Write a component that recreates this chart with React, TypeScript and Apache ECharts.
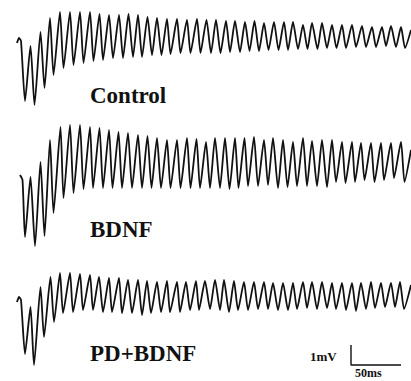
import React, { useEffect, useRef } from "react";
import * as echarts from "echarts";

// Field potential traces: [time (ms), voltage (mV relative to start level)]
const controlTrace: [number, number][] = [
  [0, 0], [2, 0.25], [4, 0.1], [8, -2.9], [13.5, -0.15], [17.5, -3.1], [23.5, 0.55], [27.5, -2.25],
  [33, 1.25], [36.5, -1.6], [43, 1.55], [46.5, -1.25], [53, 1.55], [56.5, -1.1], [63, 1.55], [66.5, -1.0],
  [73, 1.55], [76.5, -0.9], [82.5, 1.45], [86, -0.85], [92, 1.4], [96, -0.75], [102, 1.4], [106, -0.75],
  [111.5, 1.45], [116, -0.7], [121, 1.4], [125, -0.7], [130.5, 1.3], [135, -0.6], [140, 1.25], [144.5, -0.6],
  [150, 1.2], [153.5, -0.55], [160, 1.2], [163.5, -0.5], [170, 1.15], [173.5, -0.5], [180, 1.2], [183.5, -0.5],
  [189.5, 1.15], [194, -0.5], [199, 1.15], [203.5, -0.5], [209, 1.1], [213, -0.45], [218, 1.1], [223, -0.45],
  [228, 1.05], [232.5, -0.4], [237.5, 1.1], [242, -0.4], [247, 1.0], [251.5, -0.35], [257, 1.05], [261.5, -0.35],
  [267, 1.05], [271, -0.35], [276, 1.05], [281, -0.3], [286, 0.9], [290.5, -0.3], [295, 1.0], [300.5, -0.3],
  [305, 1.0], [310, -0.25], [315, 0.9], [319.5, -0.25], [325, 0.9], [329, -0.25], [335, 0.9], [339, -0.2],
  [345, 0.85], [349, -0.2], [355, 0.8], [359, -0.2], [365, 0.8], [369, -0.15], [374, 0.85], [379, -0.2],
  [384, 0.8], [388, -0.25], [394, 0.65],
];

const bdnfTrace: [number, number][] = [
  [3, 0], [5.5, -0.25], [8, -3.1], [13.5, -0.1], [18, -3.55], [23.5, 0.65], [27.5, -3.05], [33, 1.75],
  [36.5, -1.9], [43.5, 2.4], [46.5, -1.15], [53, 2.5], [56.5, -0.9], [63, 2.5], [66.5, -0.7], [73, 2.4],
  [76, -0.65], [82.5, 2.35], [86, -0.65], [92, 2.25], [95.5, -0.65], [101.5, 2.15], [105, -0.65], [111, 2.1],
  [115, -0.65], [121, 2.0], [125, -0.65], [130.5, 1.95], [134.5, -0.65], [140, 1.85], [144, -0.65], [150, 1.75],
  [153.5, -0.65], [160, 1.75], [163.5, -0.65], [170, 1.85], [173.5, -0.65], [179.5, 1.8], [183, -0.65], [189, 1.65],
  [193, -0.65], [198, 1.85], [203, -0.65], [208, 1.85], [212.5, -0.7], [218, 1.85], [221.5, -0.65], [227.5, 1.85],
  [231, -0.55], [237, 1.9], [241, -0.55], [247, 1.75], [251, -0.5], [256, 1.85], [261, -0.65], [266, 1.75],
  [270.5, -0.6], [276, 1.65], [280, -0.55], [286, 1.85], [290, -0.55], [295, 1.7], [300, -0.55], [305, 1.75],
  [310, -0.6], [315, 1.75], [319, -0.35], [325, 1.65], [328.5, -0.4], [335, 1.65], [338, -0.35], [344, 1.6],
  [347.5, -0.25], [354, 1.6], [357.5, -0.35], [364, 1.6], [367, -0.25], [374, 1.6], [377, -0.15], [384, 1.65],
  [387.5, -0.35], [394, 1.25],
];

const pdBdnfTrace: [number, number][] = [
  [0, -0.1], [2, 0.15], [4, 0], [8, -2.7], [13.5, -0.35], [17, -3.25], [23.5, 0.65], [27, -1.85],
  [33.5, 1.15], [37, -1.1], [43, 1.35], [46, -0.65], [53, 1.35], [56, -0.6], [63, 1.3], [66, -0.5],
  [73, 1.25], [76, -0.5], [82, 1.15], [86, -0.6], [92, 1.1], [95, -0.6], [102, 1.1], [105, -0.65],
  [111, 1.0], [115, -0.65], [121, 1.0], [125, -0.75], [130, 0.95], [134, -0.65], [140, 0.9], [144, -0.6],
  [150, 0.95], [153, -0.6], [160, 0.9], [163, -0.6], [169, 0.9], [173, -0.5], [179, 0.95], [182, -0.5],
  [188, 0.95], [193, -0.45], [198, 1.0], [203, -0.5], [207, 1.0], [212, -0.6], [217, 0.95], [221, -0.5],
  [227, 0.9], [231, -0.5], [237, 0.9], [241, -0.45], [247, 0.9], [251, -0.45], [256, 0.85], [261, -0.5],
  [266, 0.85], [271, -0.5], [276, 0.85], [280, -0.45], [286, 0.9], [290, -0.4], [295, 0.9], [300, -0.45],
  [305, 0.9], [310, -0.4], [315, 0.85], [319, -0.45], [325, 0.85], [329, -0.5], [335, 0.85], [339, -0.55],
  [344, 0.85], [349, -0.45], [354, 0.9], [358, -0.4], [364, 0.85], [368, -0.35], [374, 0.85], [378, -0.35],
  [383, 0.9], [387, -0.45], [394, 0.75],
];

const traceLabels = ["Control", "BDNF", "PD+BDNF"];
const scaleBarMs = 50;
const scaleBarMv = 1;
const scaleBarLabels = ["1mV", "50ms"];

export default function App() {
  const ref = useRef<HTMLDivElement>(null);

  useEffect(() => {
    if (!ref.current) return;
    const chart = echarts.init(ref.current, null, { renderer: "svg" });

    const panels = [
      { top: 0, height: 120, min: -3.85, max: 2.15, data: controlTrace, labelY: 95 },
      { top: 115, height: 140, min: -4.0, max: 3.0, data: bdnfTrace, labelY: 229 },
      { top: 255, height: 120, min: -3.75, max: 2.25, data: pdBdnfTrace, labelY: 353 },
    ];

    const barT0 = 334;
    const barV0 = -3.25;
    const scaleBar: [number, number][] = [
      [barT0, barV0 + scaleBarMv],
      [barT0, barV0],
      [barT0 + scaleBarMs, barV0],
    ];

    const serif = "'Liberation Serif', 'Times New Roman', serif";

    chart.setOption({
      animation: false,
      backgroundColor: "#ffffff",
      grid: panels.map((p) => ({ left: 17, right: 0, top: p.top, height: p.height })),
      xAxis: panels.map((_, i) => ({
        type: "value", gridIndex: i, min: 0, max: 394, show: false,
      })),
      yAxis: panels.map((p, i) => ({
        type: "value", gridIndex: i, min: p.min, max: p.max, show: false,
      })),
      series: [
        ...panels.map((p, i) => ({
          type: "line",
          xAxisIndex: i,
          yAxisIndex: i,
          data: p.data,
          showSymbol: false,
          symbol: "none",
          smooth: 0.2,
          clip: false,
          lineStyle: { color: "#111111", width: 1.8 },
        })),
        {
          type: "line",
          xAxisIndex: 2,
          yAxisIndex: 2,
          data: scaleBar,
          showSymbol: false,
          symbol: "none",
          clip: false,
          lineStyle: { color: "#111111", width: 1.4 },
        },
      ],
      graphic: [
        ...panels.map((p, i) => ({
          type: "text",
          x: 90,
          y: p.labelY,
          style: {
            text: traceLabels[i],
            font: `bold 23px ${serif}`,
            fill: "#111111",
            verticalAlign: "middle",
            align: "left",
          },
        })),
        {
          type: "text",
          x: 310,
          y: 356,
          style: {
            text: scaleBarLabels[0],
            font: `bold 13px ${serif}`,
            fill: "#111111",
            verticalAlign: "middle",
            align: "left",
          },
        },
        {
          type: "text",
          x: 355,
          y: 373,
          style: {
            text: scaleBarLabels[1],
            font: `bold 12px ${serif}`,
            fill: "#111111",
            verticalAlign: "middle",
            align: "left",
          },
        },
      ],
    });

    return () => chart.dispose();
  }, []);

  return (
    <div
      ref={ref}
      style={{ position: "fixed", left: 0, top: 0, width: 411, height: 381, background: "#ffffff" }}
    />
  );
}
